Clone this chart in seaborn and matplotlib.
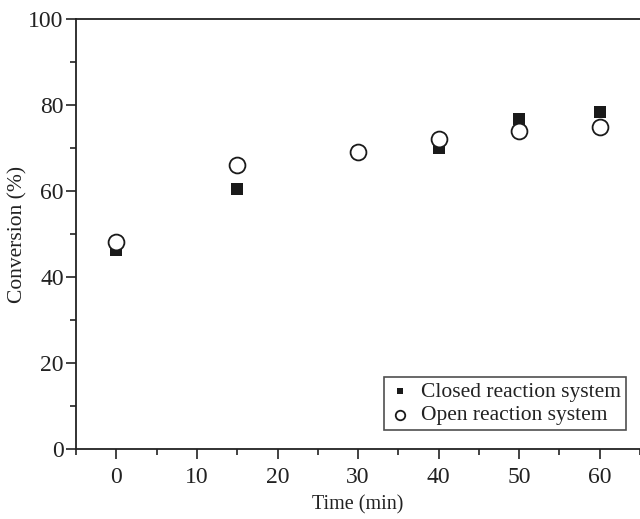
import matplotlib
matplotlib.use("Agg")
import matplotlib.pyplot as plt
from matplotlib.ticker import MultipleLocator
import seaborn as sns
import pandas as pd

time_min = [0, 15, 30, 40, 50, 60]
closed_conv = [46.4, 60.5, 69.0, 70.0, 76.7, 78.4]
open_conv = [48.2, 66.1, 69.2, 72.2, 74.0, 75.0]
series_names = ["Closed reaction system", "Open reaction system"]

df = pd.DataFrame({
    "Time": time_min * 2,
    "Conversion": closed_conv + open_conv,
    "System": [series_names[0]] * len(time_min) + [series_names[1]] * len(time_min),
})

sns.set_style("ticks")
plt.rcParams["font.family"] = ["Liberation Serif", "DejaVu Serif"]
ink = "#222222"

fig = plt.figure(figsize=(6.4, 5.19), dpi=100)
ax = fig.add_axes([0.119, 0.135, 0.881, 0.828])

sns.scatterplot(data=df[df.System == series_names[0]], x="Time", y="Conversion",
                marker="s", s=70, color="#1a1a1a", edgecolor="#1a1a1a", linewidth=0,
                label=series_names[0], ax=ax, zorder=2)
sns.scatterplot(data=df[df.System == series_names[1]], x="Time", y="Conversion",
                marker="o", s=130, facecolor="white", edgecolor="#1a1a1a", linewidth=1.3,
                label=series_names[1], ax=ax, zorder=3)

ax.set_xlim(-5, 65)
ax.set_ylim(0, 100)
ax.xaxis.set_major_locator(MultipleLocator(10))
ax.xaxis.set_minor_locator(MultipleLocator(5))
ax.yaxis.set_major_locator(MultipleLocator(20))
ax.yaxis.set_minor_locator(MultipleLocator(10))
ax.tick_params(which="major", direction="out", length=7, width=1.2, colors=ink,
               labelsize=17, pad=2)
ax.tick_params(which="minor", direction="out", length=4, width=1.2, colors=ink)
ax.tick_params(axis="x", which="major", pad=6)

for side in ["left", "bottom", "top"]:
    ax.spines[side].set_visible(True)
    ax.spines[side].set_color(ink)
    ax.spines[side].set_linewidth(1.3)
ax.spines["right"].set_visible(False)

ax.set_xlabel("Time (min)", fontsize=14.5, color=ink)
ax.set_ylabel("Conversion (%)", fontsize=15.5, color=ink)
ax.xaxis.set_label_coords(0.5, -0.108)
ax.yaxis.set_label_coords(-0.087, 0.5)

leg = ax.legend(loc="lower right", bbox_to_anchor=(0.975, 0.044), fontsize=15.5,
                frameon=True, fancybox=False, handletextpad=0.5, borderpad=0.22,
                labelspacing=0.15, handlelength=1.0, markerscale=0.6,
                borderaxespad=0)
leg.get_frame().set_edgecolor(ink)
leg.get_frame().set_linewidth(1.2)
for t in leg.get_texts():
    t.set_color(ink)

fig.savefig("out.png", dpi=100)
